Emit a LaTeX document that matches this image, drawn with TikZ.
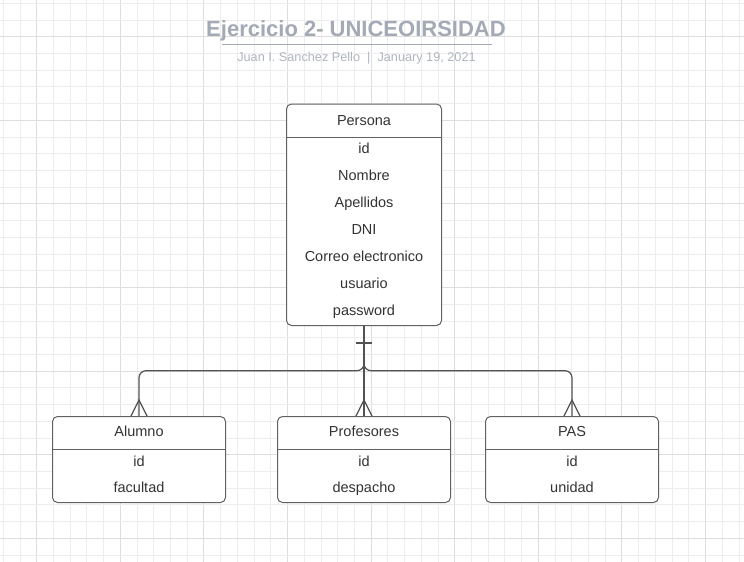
\documentclass[tikz,border=0pt]{standalone}
\usepackage{fontspec}
\setmainfont{Liberation Sans}
\begin{document}
\begin{tikzpicture}[x=1pt,y=-1pt,
  minorgrid/.style={draw=black!7,line width=0.9pt},
  majorgrid/.style={draw=black!13,line width=0.9pt},
  entity/.style={draw=black!62,line width=1pt,rounded corners=5pt,fill=white,inner sep=0pt},
  divider/.style={draw=black!62,line width=1pt},
  lbl/.style={text=black!80,font=\fontsize{14.5}{16}\selectfont,inner sep=0pt,anchor=base},
  rel/.style={draw=black!68,line width=1.2pt},
  relround/.style={rel,rounded corners=7pt}
]
\useasboundingbox (0,0) rectangle (744,562);
\fill[white] (0,0) rectangle (744,562);
% grid
\foreach \k in {0,...,44}{
  \pgfmathsetmacro{\gx}{3.3+16.72*\k}
  \pgfmathtruncatemacro{\m}{mod(\k,5)}
  \ifnum\m=2
    \draw[majorgrid] (\gx,0) -- (\gx,562);
  \else
    \draw[minorgrid] (\gx,0) -- (\gx,562);
  \fi
}
\foreach \k in {0,...,33}{
  \pgfmathsetmacro{\gy}{3.3+16.72*\k}
  \pgfmathtruncatemacro{\m}{mod(\k,5)}
  \ifnum\m=2
    \draw[majorgrid] (0,\gy) -- (744,\gy);
  \else
    \draw[minorgrid] (0,\gy) -- (744,\gy);
  \fi
}
% title
\node[text={rgb,255:red,163;green,169;blue,181},font=\fontsize{22}{24}\selectfont\bfseries,inner sep=0pt,anchor=base] (title) at (356,36.5) {Ejercicio 2- UNICEOIRSIDAD};
\draw[draw={rgb,255:red,163;green,169;blue,181},line width=1.6pt] (222,44.4) -- (492,44.4);
\node[text={rgb,255:red,176;green,181;blue,191},font=\fontsize{12.7}{14}\selectfont,inner sep=0pt,anchor=base] (subtitle) at (356.5,61) {Juan I. Sanchez Pello\ \ |\ \ January 19, 2021};

% Persona
\node[entity,minimum width=155pt,minimum height=221.5pt] (persona) at (364,214.75) {};
\draw[divider] (286.5,137.5) -- (441.5,137.5);
\node[lbl] (pname) at (364,125.5) {Persona};
\node[lbl] (p1) at (364,153) {id};
\node[lbl] (p2) at (364,180) {Nombre};
\node[lbl] (p3) at (364,207) {Apellidos};
\node[lbl] (p4) at (364,234) {DNI};
\node[lbl] (p5) at (364,261) {Correo electronico};
\node[lbl] (p6) at (364,288) {usuario};
\node[lbl] (p7) at (364,315) {password};

% Children
\node[entity,minimum width=173pt,minimum height=86pt] (alumno) at (139,459.5) {};
\node[entity,minimum width=173pt,minimum height=86pt] (prof) at (364,459.5) {};
\node[entity,minimum width=173pt,minimum height=86pt] (pas) at (572,459.5) {};
\foreach \n/\cx/\h/\a in {alumno/139/Alumno/facultad, prof/364/Profesores/despacho, pas/572/PAS/unidad}{
  \draw[divider] (\cx-86.5,449.5) -- (\cx+86.5,449.5);
  \node[lbl] (\n-h) at (\cx,436.5) {\h};
  \node[lbl] (\n-id) at (\cx,466) {id};
  \node[lbl] (\n-a) at (\cx,492) {\a};
}

% connectors
\coordinate (hbar) at (0,370.7);
\draw[relround] (persona.south) -- (persona.south |- hbar) -- (alumno.north |- hbar) -- (alumno.north);
\draw[relround] (persona.south) -- (persona.south |- hbar) -- (pas.north |- hbar) -- (pas.north);
\draw[rel] (persona.south) -- (prof.north);
% one mark
\draw[rel] ([xshift=-8pt,yshift=-17pt]persona.south) -- ([xshift=8pt,yshift=-17pt]persona.south);
% crow's feet
\foreach \n in {alumno,prof,pas}{
  \draw[rel] ([xshift=-8pt]\n.north) -- ([yshift=16pt]\n.north) -- ([xshift=8pt]\n.north);
}
\end{tikzpicture}
\end{document}
